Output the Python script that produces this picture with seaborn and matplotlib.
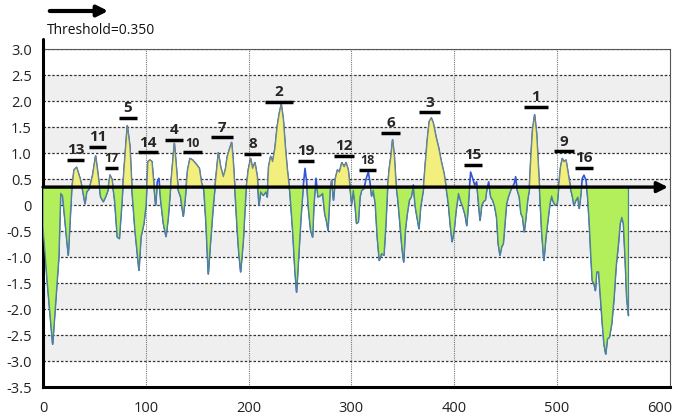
import numpy as np
import pandas as pd
import matplotlib
matplotlib.use("Agg")
import matplotlib.pyplot as plt
import seaborn as sns

# ---- data ----
threshold = 0.35

residue = [
    0, 4.2, 9.4, 15.4, 17.2, 19.1, 24.6, 27.9, 30.2, 32.7,
    36.0, 38.6, 40.9, 42.5, 45.1, 48.3, 51.2, 53.8, 56.1, 58.7,
    61.3, 63.2, 65.2, 67.1, 69.7, 72.3, 74.3, 76.5, 78.8, 82.0,
    84.6, 86.6, 89.5, 91.8, 93.4, 95.3, 98.2, 100.2, 102.1, 104.1,
    106.0, 108.0, 109.6, 111.2, 112.8, 114.5, 117.1, 119.7, 121.9, 124.2,
    125.8, 127.8, 130.0, 131.6, 133.9, 136.5, 138.5, 140.7, 143.0, 145.6,
    149.5, 152.1, 154.3, 156.6, 158.6, 160.8, 163.1, 165.7, 168.3, 170.6,
    172.8, 175.4, 177.4, 179.3, 181.3, 183.5, 185.1, 186.8, 189.0, 190.6,
    192.3, 194.9, 197.5, 199.7, 202.0, 203.9, 206.2, 208.5, 210.1, 211.7,
    214.3, 216.9, 218.2, 219.5, 221.5, 223.4, 225.7, 227.9, 229.9, 231.8,
    233.8, 235.7, 237.7, 240.3, 242.9, 245.1, 246.7, 248.7, 251.0, 253.3,
    254.9, 256.5, 258.1, 260.4, 262.3, 263.6, 265.6, 267.6, 270.1, 272.1,
    274.1, 276.0, 277.3, 279.3, 280.9, 282.6, 284.5, 286.5, 288.4, 290.7,
    293.0, 294.8, 297.0, 298.6, 300.3, 301.9, 303.5, 305.1, 306.8, 308.4,
    310.0, 312.3, 314.2, 316.5, 318.1, 319.7, 321.3, 323.3, 325.2, 327.2,
    329.4, 331.7, 333.6, 335.3, 336.9, 338.5, 340.1, 341.8, 343.4, 345.3,
    347.3, 349.2, 350.9, 352.5, 354.4, 356.4, 358.3, 360.3, 362.2, 364.2,
    365.8, 367.4, 370.0, 372.0, 373.9, 375.8, 377.8, 379.7, 382.3, 385.0,
    386.9, 388.2, 390.2, 392.1, 394.4, 396.1, 398.0, 400.0, 401.9, 404.2,
    406.5, 408.4, 410.7, 412.3, 414.1, 416.0, 418.0, 420.0, 421.9, 423.5,
    425.2, 426.8, 428.4, 430.4, 431.7, 433.6, 435.6, 437.5, 439.5, 441.3,
    442.9, 444.6, 446.2, 447.8, 449.4, 451.0, 452.7, 455.0, 456.9, 458.5,
    459.8, 461.4, 463.4, 465.0, 466.6, 468.2, 469.9, 471.5, 473.1, 474.7,
    476.3, 478.3, 480.2, 481.8, 483.5, 485.1, 487.3, 489.3, 491.6, 493.2,
    494.8, 496.4, 498.4, 500.3, 502.0, 503.6, 505.2, 506.8, 508.8, 510.4,
    512.0, 513.6, 515.2, 516.5, 518.5, 520.4, 521.7, 523.0, 524.7, 526.3,
    528.3, 529.9, 531.5, 533.1, 534.4, 536.1, 537.4, 538.7, 540.6, 542.6,
    544.2, 545.8, 547.5, 549.1, 551.0, 553.3, 555.6, 557.5, 559.8, 561.5,
    563.1, 564.7, 566.3, 567.9, 569.6,
]

score = [
    -0.42, -1.48, -2.67, -1.00, 0.23, 0.18, -0.96, 0.29, 0.68, 0.73,
    0.52, 0.29, 0.03, 0.26, 0.32, 0.58, 0.95, 0.55, 0.16, 0.07,
    0.18, 0.29, 0.58, 0.50, 0.10, -0.61, -0.64, -0.02, 0.68, 1.53,
    1.13, 0.29, -0.48, -0.93, -1.25, -0.61, -0.35, 0.00, 0.84, 0.87,
    0.84, 0.36, 0.00, 0.45, 0.52, 0.10, -0.35, -0.60, -0.23, 0.36,
    0.74, 1.19, 0.68, 0.29, 0.16, -0.21, 0.16, 0.68, 0.90, 0.87,
    0.78, 0.71, 0.42, 0.29, -0.35, -1.32, -0.67, 0.00, 0.55, 1.01,
    0.74, 0.55, 0.68, 0.94, 1.07, 1.21, 0.84, 0.29, -0.48, -0.93,
    -1.28, -0.67, 0.29, 0.68, 0.90, 0.71, 0.82, 0.55, 0.00, 0.26,
    0.19, 0.26, 0.16, 0.74, 0.94, 0.84, 1.10, 1.52, 1.77, 1.94,
    1.65, 1.13, 0.68, 0.23, -0.48, -1.25, -1.67, -1.00, -0.23, 0.39,
    0.71, 0.45, -0.03, -0.48, -0.61, 0.03, 0.52, 0.16, 0.19, 0.23,
    -0.16, -0.32, -0.48, 0.29, 0.48, 0.10, 0.52, 0.68, 0.64, 0.82,
    0.74, 0.82, 0.68, 0.36, 0.03, 0.29, 0.03, -0.35, -0.32, 0.16,
    0.29, 0.32, 0.50, 0.64, 0.45, 0.18, 0.29, 0.03, -0.61, -1.06,
    -0.93, -0.96, -0.35, 0.36, 0.71, 0.94, 1.26, 0.94, 0.42, 0.10,
    -0.35, -0.80, -1.09, -0.48, -0.16, 0.10, 0.16, 0.39, -0.03, -0.26,
    -0.45, -0.03, 0.29, 0.81, 1.26, 1.61, 1.68, 1.58, 1.32, 1.10,
    0.90, 0.78, 0.61, 0.36, 0.03, -0.35, -0.70, -0.48, -0.10, 0.23,
    0.07, -0.03, -0.19, -0.39, 0.10, 0.64, 0.52, 0.39, 0.45, 0.10,
    -0.29, 0.00, 0.07, 0.10, 0.29, 0.45, 0.16, 0.10, -0.03, -0.23,
    -0.74, -0.96, -0.80, -0.74, -0.35, 0.03, 0.16, 0.29, 0.36, 0.42,
    0.55, 0.29, 0.16, -0.16, -0.23, -0.51, -0.23, 0.10, 0.29, 0.94,
    1.45, 1.74, 1.39, 0.81, 0.16, -0.48, -1.06, -0.61, -0.23, 0.03,
    0.18, 0.07, 0.00, 0.03, 0.42, 0.74, 0.90, 0.84, 0.87, 0.68,
    0.48, 0.29, 0.16, 0.00, 0.10, 0.16, -0.06, 0.16, 0.52, 0.58,
    0.48, 0.16, -0.35, -1.00, -1.45, -1.51, -1.64, -1.28, -1.28, -1.83,
    -2.28, -2.67, -2.86, -2.57, -2.54, -2.28, -1.77, -1.19, -0.74, -0.35,
    -0.23, -0.35, -1.00, -1.77, -2.12,
]

# predicted epitopes: label, start, end, bar height
epi_labels = ["13", "11", "17", "5", "14", "4", "10", "7", "8", "2",
              "19", "12", "18", "6", "3", "15", "1", "9", "16"]
epi_start = [23, 45, 60, 74, 92, 119, 136, 163, 196, 216,
             248, 283, 307, 329, 366, 410, 468, 497, 518]
epi_end = [40, 61, 73, 91, 112, 136, 155, 185, 212, 243,
           264, 303, 324, 347, 386, 427, 491, 517, 535]
epi_level = [0.87, 1.12, 0.72, 1.68, 1.02, 1.26, 1.02, 1.31, 0.99, 1.99,
             0.85, 0.95, 0.68, 1.39, 1.79, 0.78, 1.89, 1.04, 0.72]
small_labels = ["17", "10", "18"]

# stretches shaded yellow above the threshold
yellow_start = [26, 46, 63, 77, 100, 123, 138, 166, 196, 218, 279, 334, 368, 472, 501]
yellow_end = [38, 56, 68, 88, 109, 131, 156, 187, 209, 241, 298, 344, 393, 484, 515]

y_ticks = [3.0, 2.5, 2.0, 1.5, 1.0, 0.5, 0, -0.5, -1.0, -1.5, -2.0, -2.5, -3.0, -3.5]
y_ticklabels = ["3.0", "2.5", "2.0", "1.5", "1.0", "0.5", "0", "-0.5",
                "-1.0", "-1.5", "-2.0", "-2.5", "-3.0", "-3.5"]
x_ticks = [0, 100, 200, 300, 400, 500, 600]

df = pd.DataFrame({"residue": residue, "score": score})

sns.set_style("white")
plt.rcParams["font.family"] = ["Open Sans", "DejaVu Sans"]

fig = plt.figure(figsize=(6.77, 4.16), dpi=100)
ax = fig.add_axes([43 / 677, 28.7 / 416, 627 / 677, 338 / 416])
ax.set_xlim(0, 610)
ax.set_ylim(-3.5, 3.0)

# alternating background bands
for lo in [2.0, 1.0, 0.0, -1.0, -2.0, -3.0]:
    ax.axhspan(lo, lo + 0.5, color="#efefef", zorder=0, lw=0)

# dotted grid
for yv in y_ticks:
    ax.axhline(yv, color="#333333", lw=0.9, ls=(0, (2, 1.5)), zorder=1)
for xv in x_ticks[1:-1]:
    ax.axvline(xv, color="#777777", lw=0.8, ls=(0, (1, 1)), zorder=1)

x = df["residue"].to_numpy()
y = df["score"].to_numpy()

sns.lineplot(data=df, x="residue", y="score", ax=ax, color="#3355d8",
             lw=1.2, zorder=2, sort=False)

# fills relative to threshold, with a grey-teal edge like the original
ax.fill_between(x, y, threshold, where=y < threshold, interpolate=True,
                facecolor="#b2ef5a", edgecolor="#4f8590", lw=0.9, zorder=3)
in_yellow = np.zeros_like(x, dtype=bool)
for s, e in zip(yellow_start, yellow_end):
    in_yellow |= (x >= s) & (x <= e)
ax.fill_between(x, y, threshold, where=(y > threshold) & in_yellow, interpolate=True,
                facecolor="#f3ef7e", edgecolor="#6f8a80", lw=0.9, zorder=3)

# threshold arrow
ax.annotate("", xy=(608, threshold), xytext=(0, threshold),
            arrowprops=dict(arrowstyle="-|>", lw=2.4, color="black",
                            mutation_scale=16, shrinkA=0, shrinkB=0),
            annotation_clip=False, zorder=5)

# epitope bars and numbers
ax.hlines(epi_level, epi_start, epi_end, color="black", lw=2.5, zorder=5)
for lab, s, e, lv in zip(epi_labels, epi_start, epi_end, epi_level):
    fs = 9 if lab in small_labels else 11
    ax.text((s + e) / 2, lv + 0.05, lab, ha="center", va="bottom",
            fontsize=fs, fontweight="bold", zorder=6)

# axes styling
ax.set_yticks(y_ticks)
ax.set_yticklabels(y_ticklabels)
ax.set_xticks(x_ticks)
ax.tick_params(axis="both", labelsize=10.5, colors="#222222", length=6, width=0.8,
               direction="out", pad=2)
ax.tick_params(axis="x", length=8, color="#777777")
ax.set_xlabel("")
ax.set_ylabel("")
for side in ["top", "right"]:
    ax.spines[side].set_color("#555555")
    ax.spines[side].set_linewidth(0.8)
for side in ["left", "bottom"]:
    ax.spines[side].set_color("black")
    ax.spines[side].set_linewidth(2.2)
ax.plot([0, 0], [3.0, 3.2], color="black", lw=2.2, clip_on=False, zorder=6)

# header: arrow and threshold note
fig.patches.append(matplotlib.patches.FancyArrowPatch(
    (47 / 677, 1 - 11 / 416), (111 / 677, 1 - 11 / 416),
    transform=fig.transFigure, arrowstyle="-|>", mutation_scale=16,
    lw=3, color="black"))
fig.text(47 / 677, 1 - 30 / 416, "Threshold=0.350", fontsize=10,
         ha="left", va="center", color="#111111")

fig.savefig("out.png", dpi=100)
